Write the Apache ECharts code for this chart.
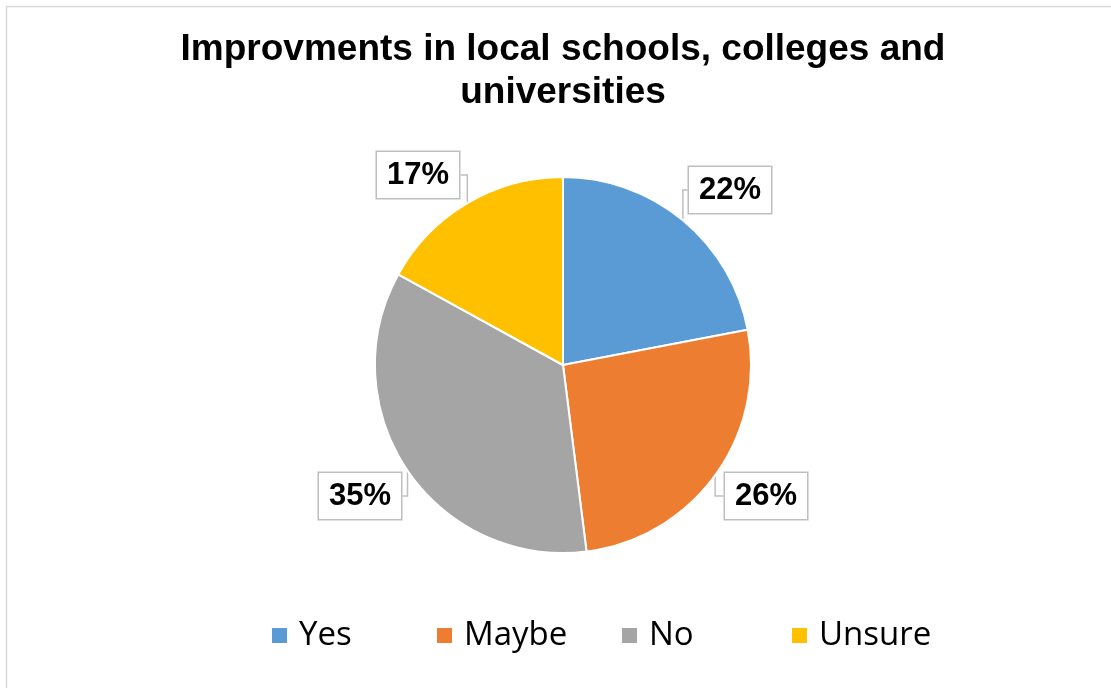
<!DOCTYPE html>
<html>
<head>
<meta charset="utf-8">
<style>
  html, body { margin: 0; padding: 0; background: #fff; }
  #chart { width: 1111px; height: 688px; }
</style>
<script src="https://cdn.jsdelivr.net/npm/echarts@6/dist/echarts.min.js"></script>
</head>
<body>
<div id="chart"></div>
<script>
// Survey answers and their shares (percent)
const categories = ['Yes', 'Maybe', 'No', 'Unsure'];
const shares = [22, 26, 35, 17];
const colors = ['#5B9BD5', '#ED7D31', '#A5A5A5', '#FFC000'];

// Callout box centres, one per slice
const calloutPos = [[730, 190], [766, 496], [360, 496], [418, 175]];
// Left edge of each legend entry
const legendLeft = [272, 437, 622, 792];

const chart = echarts.init(document.getElementById('chart'));

const legends = categories.map((name, i) => ({
  data: [name],
  left: legendLeft[i],
  top: 619,
  padding: 0,
  icon: 'rect',
  itemWidth: 15,
  itemHeight: 15,
  itemStyle: { borderWidth: 0 },
  selectedMode: false,
  textStyle: {
    fontFamily: 'Open Sans',
    fontSize: 33,
    color: '#000',
    padding: [0, 0, 0, 7]
  }
}));

chart.setOption({
  animation: false,
  color: colors,
  graphic: [{
    type: 'rect',
    shape: { x: 6.5, y: 6.5, width: 1300, height: 900 },
    style: { fill: 'none', stroke: '#d9d9d9', lineWidth: 1.5 },
    silent: true
  }],
  title: {
    text: 'Improvments in local schools, colleges and\nuniversities',
    left: 563,
    textAlign: 'center',
    top: 28,
    padding: 0,
    textStyle: {
      fontFamily: 'Liberation Sans, Arial, sans-serif',
      fontWeight: 'bold',
      fontSize: 37,
      lineHeight: 43,
      color: '#000'
    }
  },
  legend: legends,
  series: [{
    type: 'pie',
    center: [563, 365],
    radius: [0, 188],
    startAngle: 90,
    clockwise: true,
    itemStyle: { borderColor: '#fff', borderWidth: 2 },
    label: {
      show: true,
      position: 'outside',
      formatter: '{c}%',
      fontFamily: 'Liberation Sans, Arial, sans-serif',
      fontWeight: 'bold',
      fontSize: 31,
      lineHeight: 36,
      color: '#000',
      backgroundColor: '#fff',
      borderColor: '#bfbfbf',
      borderWidth: 1.5,
      padding: [5, 10]
    },
    labelLine: {
      show: true,
      length: 10,
      length2: 10,
      lineStyle: { color: '#bfbfbf', width: 1.5 }
    },
    labelLayout: function (params) {
      const p = calloutPos[params.dataIndex];
      return { x: p[0], y: p[1], align: 'center', verticalAlign: 'middle' };
    },
    emphasis: { disabled: true },
    data: categories.map((name, i) => ({ name: name, value: shares[i] }))
  }]
});
</script>
</body>
</html>
